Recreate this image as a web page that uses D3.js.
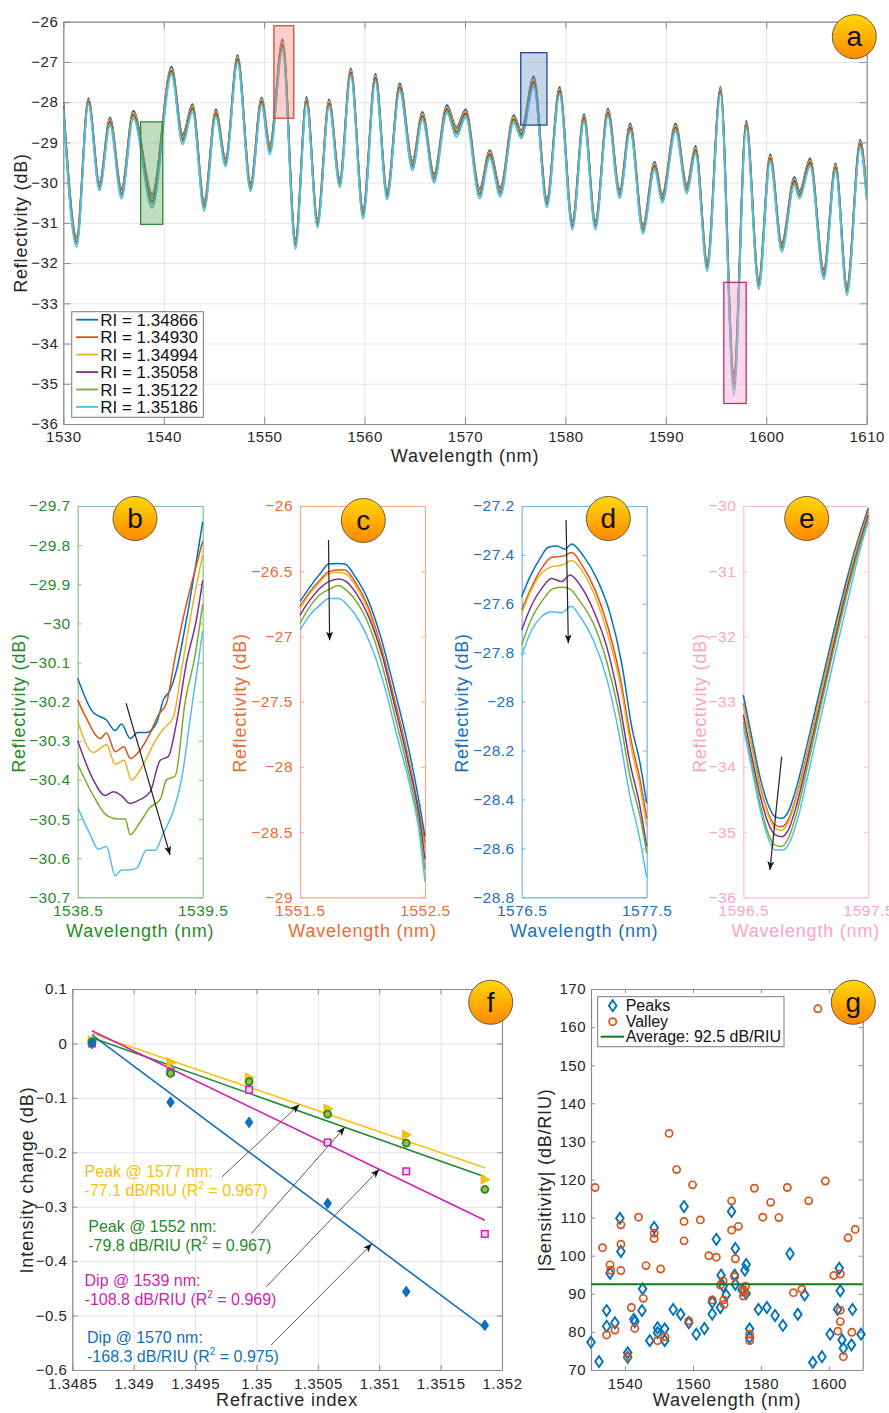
<!DOCTYPE html>
<html>
<head>
<meta charset="utf-8">
<script src="https://cdn.jsdelivr.net/npm/d3@7"></script>
<style>
  body { margin: 0; background: #fff; }
  svg text { font-family: "Liberation Sans", Arial, Helvetica, sans-serif; }
</style>
</head>
<body>
<script>
// ---------------- data ----------------
const riValues = ["1.34866", "1.34930", "1.34994", "1.35058", "1.35122", "1.35186"];
const riColors = ["#0072BD", "#D95319", "#EDB120", "#7E2F8E", "#77AC30", "#4DBEEE"];
// relative position of each RI curve inside the spread of an extremum (0 = lowest RI)
const riFraction = [0, 0.19, 0.27, 0.5, 0.72, 1];

// full spectrum for RI = 1.34866: [wavelength nm, reflectivity dB, spread to RI = 1.35186 dB]
const spectrumExtrema = [
  [1530.0, -28.0, 0.2], [1531.33, -31.35, 0.25], [1532.5, -27.9, 0.15], [1533.6, -30.0, 0.2],
  [1534.65, -28.38, 0.2], [1535.8, -30.15, 0.25], [1536.97, -28.21, 0.2], [1538.85, -30.29, 0.34],
  [1540.78, -27.12, 0.2], [1541.88, -28.8, 0.25], [1542.87, -28.05, 0.2], [1544.03, -30.45, 0.25],
  [1545.19, -28.18, 0.2], [1546.16, -29.4, 0.2], [1547.35, -26.83, 0.2], [1548.65, -30.0, 0.22],
  [1549.74, -27.88, 0.2], [1550.57, -29.05, 0.25], [1551.83, -26.44, 0.27], [1553.12, -31.4, 0.25],
  [1554.22, -27.87, 0.2], [1555.31, -30.9, 0.22], [1556.47, -27.93, 0.2], [1557.53, -29.9, 0.22],
  [1558.63, -27.16, 0.2], [1559.85, -30.65, 0.25], [1561.08, -27.3, 0.2], [1562.24, -30.2, 0.22],
  [1563.5, -27.53, 0.2], [1564.77, -29.45, 0.25], [1565.76, -28.24, 0.2], [1566.92, -29.78, 0.22],
  [1568.2, -28.07, 0.2], [1569.14, -28.62, 0.25], [1570.07, -28.18, 0.2], [1571.46, -30.15, 0.25],
  [1572.46, -29.19, 0.2], [1573.52, -30.12, 0.23], [1574.85, -28.32, 0.2], [1575.61, -28.7, 0.2],
  [1576.84, -27.36, 0.26], [1578.16, -30.4, 0.22], [1579.42, -27.62, 0.2], [1580.69, -30.95, 0.22],
  [1581.85, -28.3, 0.2], [1582.98, -30.95, 0.22], [1584.23, -28.16, 0.2], [1585.4, -30.17, 0.22],
  [1586.45, -28.53, 0.2], [1587.72, -31.05, 0.22], [1588.88, -29.48, 0.2], [1589.64, -30.28, 0.22],
  [1590.97, -28.53, 0.2], [1592.09, -30.05, 0.22], [1592.96, -29.09, 0.2], [1594.12, -31.95, 0.25],
  [1595.44, -27.62, 0.2], [1596.77, -34.75, 0.53], [1598.0, -28.46, 0.2], [1599.25, -32.4, 0.25],
  [1600.39, -29.29, 0.2], [1601.54, -31.5, 0.22], [1602.8, -29.86, 0.2], [1603.3, -30.2, 0.2],
  [1604.37, -29.4, 0.2], [1605.73, -32.15, 0.25], [1606.9, -29.52, 0.2], [1608.04, -32.55, 0.25],
  [1609.35, -28.94, 0.2], [1610.0, -30.25, 0.2]
];

// highlighted windows [wl from, wl to, dB top, dB bottom]
const windowB = [1537.7, 1539.9, -28.49, -31.04];
const windowC = [1550.97, 1552.95, -26.1, -28.4];
const windowD = [1575.55, 1578.16, -26.77, -28.57];
const windowE = [1595.77, 1598.0, -32.48, -35.49];

// zoomed spectra, one list of [wl, dB] per RI
const dip1539 = [
  [[1538.5,-30.14],[1538.625,-30.228],[1538.73,-30.247],[1538.8,-30.274],[1538.85,-30.257],[1538.92,-30.294],[1538.98,-30.279],[1539.05,-30.279],[1539.13,-30.255],[1539.185,-30.196],[1539.24,-30.17],[1539.29,-30.12],[1539.37,-29.99],[1539.45,-29.84],[1539.5,-29.74]],
  [[1538.5,-30.196],[1538.57,-30.243],[1538.68,-30.294],[1538.73,-30.28],[1538.8,-30.328],[1538.87,-30.315],[1538.92,-30.345],[1539.0,-30.324],[1539.08,-30.28],[1539.145,-30.234],[1539.21,-30.204],[1539.28,-30.085],[1539.37,-29.95],[1539.45,-29.85],[1539.5,-29.79]],
  [[1538.5,-30.25],[1538.625,-30.33],[1538.73,-30.31],[1538.8,-30.36],[1538.87,-30.35],[1538.93,-30.40],[1539.025,-30.36],[1539.12,-30.30],[1539.185,-30.27],[1539.265,-30.24],[1539.33,-30.12],[1539.41,-29.97],[1539.5,-29.825]],
  [[1538.5,-30.30],[1538.625,-30.40],[1538.72,-30.44],[1538.785,-30.43],[1538.85,-30.44],[1538.92,-30.46],[1539.0,-30.45],[1539.08,-30.43],[1539.16,-30.35],[1539.225,-30.34],[1539.29,-30.255],[1539.37,-30.10],[1539.45,-29.99],[1539.5,-29.89]],
  [[1538.5,-30.36],[1538.625,-30.44],[1538.73,-30.49],[1538.825,-30.50],[1538.88,-30.50],[1538.92,-30.54],[1538.995,-30.51],[1539.08,-30.47],[1539.16,-30.45],[1539.21,-30.40],[1539.28,-30.39],[1539.36,-30.20],[1539.44,-30.08],[1539.5,-29.95]],
  [[1538.5,-30.47],[1538.6,-30.54],[1538.665,-30.577],[1538.73,-30.57],[1538.8,-30.645],[1538.85,-30.63],[1538.89,-30.63],[1538.97,-30.626],[1539.05,-30.58],[1539.12,-30.58],[1539.185,-30.536],[1539.265,-30.48],[1539.33,-30.40],[1539.41,-30.22],[1539.5,-30.02]]
];
const peak1552 = [
  [[1551.5,-26.733],[1551.58,-26.62],[1551.66,-26.52],[1551.73,-26.445],[1551.8,-26.44],[1551.86,-26.445],[1551.94,-26.54],[1552.04,-26.71],[1552.145,-27.0],[1552.25,-27.385],[1552.36,-27.82],[1552.44,-28.2],[1552.5,-28.535]],
  [[1551.5,-26.77],[1551.58,-26.657],[1551.66,-26.567],[1551.73,-26.503],[1551.8,-26.49],[1551.86,-26.49],[1551.94,-26.58],[1552.04,-26.76],[1552.145,-27.066],[1552.25,-27.46],[1552.36,-27.9],[1552.44,-28.28],[1552.5,-28.586]],
  [[1551.5,-26.785],[1551.58,-26.67],[1551.66,-26.58],[1551.73,-26.52],[1551.8,-26.51],[1551.86,-26.515],[1551.94,-26.605],[1552.04,-26.785],[1552.145,-27.09],[1552.25,-27.49],[1552.36,-27.92],[1552.44,-28.305],[1552.5,-28.625]],
  [[1551.5,-26.836],[1551.58,-26.72],[1551.66,-26.63],[1551.73,-26.58],[1551.81,-26.56],[1551.87,-26.58],[1551.95,-26.67],[1552.05,-26.85],[1552.16,-27.155],[1552.26,-27.54],[1552.37,-27.985],[1552.45,-28.356],[1552.5,-28.71]],
  [[1551.5,-26.9],[1551.58,-26.77],[1551.66,-26.68],[1551.73,-26.64],[1551.81,-26.61],[1551.87,-26.645],[1551.95,-26.73],[1552.05,-26.91],[1552.16,-27.23],[1552.26,-27.615],[1552.37,-28.05],[1552.45,-28.43],[1552.5,-28.79]],
  [[1551.5,-26.95],[1551.58,-26.835],[1551.66,-26.76],[1551.73,-26.71],[1551.81,-26.71],[1551.89,-26.77],[1551.97,-26.874],[1552.06,-27.05],[1552.17,-27.36],[1552.27,-27.74],[1552.38,-28.15],[1552.45,-28.48],[1552.5,-28.88]]
];
const peak1577 = [
  [[1576.5,-27.571],[1576.567,-27.489],[1576.647,-27.414],[1576.713,-27.369],[1576.78,-27.364],[1576.847,-27.377],[1576.9,-27.355],[1576.993,-27.404],[1577.1,-27.496],[1577.207,-27.639],[1577.3,-27.843],[1577.38,-28.102],[1577.447,-28.252],[1577.5,-28.416]],
  [[1576.5,-27.625],[1576.58,-27.53],[1576.66,-27.455],[1576.74,-27.41],[1576.833,-27.405],[1576.9,-27.39],[1576.98,-27.44],[1577.087,-27.543],[1577.193,-27.70],[1577.287,-27.898],[1577.38,-28.17],[1577.447,-28.32],[1577.5,-28.477]],
  [[1576.5,-27.64],[1576.58,-27.54],[1576.66,-27.475],[1576.74,-27.448],[1576.833,-27.44],[1576.9,-27.423],[1576.98,-27.462],[1577.087,-27.57],[1577.193,-27.734],[1577.287,-27.925],[1577.38,-28.198],[1577.447,-28.35],[1577.5,-28.511]],
  [[1576.5,-27.707],[1576.58,-27.605],[1576.66,-27.537],[1576.74,-27.496],[1576.82,-27.509],[1576.887,-27.482],[1576.967,-27.523],[1577.073,-27.625],[1577.18,-27.775],[1577.273,-27.98],[1577.367,-28.252],[1577.447,-28.43],[1577.5,-28.593]],
  [[1576.5,-27.768],[1576.58,-27.659],[1576.66,-27.591],[1576.753,-27.537],[1576.833,-27.532],[1576.887,-27.54],[1576.967,-27.59],[1577.073,-27.68],[1577.18,-27.836],[1577.273,-28.034],[1577.367,-28.307],[1577.447,-28.47],[1577.5,-28.62]],
  [[1576.5,-27.81],[1576.58,-27.707],[1576.66,-27.652],[1576.74,-27.632],[1576.82,-27.636],[1576.895,-27.61],[1576.967,-27.652],[1577.073,-27.748],[1577.18,-27.905],[1577.273,-28.116],[1577.367,-28.388],[1577.447,-28.566],[1577.5,-28.72]]
];
const dip1597 = [
  [[1596.5,-32.898],[1596.567,-33.537],[1596.633,-34.15],[1596.7,-34.584],[1596.753,-34.763],[1596.807,-34.789],[1596.86,-34.686],[1596.927,-34.303],[1597.007,-33.69],[1597.113,-32.82],[1597.22,-31.95],[1597.327,-31.13],[1597.433,-30.42],[1597.5,-30.036]],
  [[1596.5,-33.025],[1596.567,-33.66],[1596.633,-34.28],[1596.7,-34.71],[1596.753,-34.89],[1596.807,-34.92],[1596.86,-34.81],[1596.927,-34.43],[1597.007,-33.82],[1597.113,-32.93],[1597.22,-32.05],[1597.327,-31.21],[1597.433,-30.47],[1597.5,-30.09]],
  [[1596.5,-33.05],[1596.567,-33.69],[1596.633,-34.31],[1596.7,-34.74],[1596.753,-34.94],[1596.807,-34.97],[1596.86,-34.85],[1596.927,-34.46],[1597.007,-33.85],[1597.113,-32.95],[1597.22,-32.07],[1597.327,-31.23],[1597.433,-30.49],[1597.5,-30.11]],
  [[1596.5,-33.2],[1596.567,-33.84],[1596.633,-34.43],[1596.7,-34.865],[1596.753,-35.04],[1596.807,-35.07],[1596.86,-34.97],[1596.927,-34.58],[1597.007,-33.945],[1597.113,-33.05],[1597.22,-32.157],[1597.327,-31.29],[1597.433,-30.55],[1597.5,-30.14]],
  [[1596.5,-33.31],[1596.567,-33.945],[1596.633,-34.56],[1596.7,-35.02],[1596.753,-35.2],[1596.807,-35.22],[1596.86,-35.095],[1596.927,-34.71],[1597.007,-34.05],[1597.113,-33.13],[1597.22,-32.23],[1597.327,-31.365],[1597.433,-30.6],[1597.5,-30.19]],
  [[1596.5,-33.383],[1596.567,-34.02],[1596.633,-34.635],[1596.7,-35.095],[1596.753,-35.274],[1596.82,-35.274],[1596.873,-35.146],[1596.94,-34.763],[1597.02,-34.1],[1597.127,-33.18],[1597.233,-32.285],[1597.34,-31.416],[1597.433,-30.675],[1597.5,-30.24]]
];
// direction arrows in the zoomed panels: [[wl, dB] start, [wl, dB] end]
const arrowB = [[1538.887, -30.204], [1539.239, -30.592]];
const arrowC = [[1551.728, -26.26], [1551.737, -27.03]];
const arrowD = [[1576.855, -27.257], [1576.873, -27.761]];
const arrowE = [[1596.807, -33.843], [1596.713, -35.58]];

// intensity change versus refractive index
const riAxis = [1.34866, 1.34930, 1.34994, 1.35058, 1.35122, 1.35186];
const changePeak1577 = [0.005, -0.035, -0.063, -0.12, -0.168, -0.25];
const changePeak1552 = [0.003, -0.055, -0.07, -0.13, -0.183, -0.268];
const changeDip1539 = [0, -0.052, -0.085, -0.182, -0.235, -0.35];
const changeDip1570 = [0, -0.108, -0.145, -0.294, -0.456, -0.518];
const fitNames = ["Peak @ 1577 nm:", "Peak @ 1552 nm:", "Dip @ 1539 nm:", "Dip @ 1570 nm:"];
const fitSlopes = [-77.1, -79.8, -108.8, -168.3];
const fitR2 = ["0.967", "0.967", "0.969", "0.975"];
// annotation anchors [RI, dB]: label position, arrow start, RI where the arrow meets the fit
const fitLabelAt = [[1.34860, -0.245], [1.34863, -0.346], [1.34860, -0.446], [1.34862, -0.550]];
const fitArrowFrom = [[1.34972, -0.245], [1.34996, -0.349], [1.35008, -0.447], [1.35012, -0.554]];
const fitArrowToRI = [1.35035, 1.35072, 1.3510, 1.35094];

// sensitivity of every peak and valley [wl nm, |S| dB/RIU]
const peakSensitivity = [[1530.0,77.3],[1532.35,72.2],[1534.6,85.6],[1534.6,81.5],[1535.6,95.4],[1537.05,82.4],[1538.5,109.8],[1538.8,101.1],[1540.8,74.5],[1540.8,73.3],[1542.6,83.3],[1542.9,82.7],[1545.2,91.3],[1545.0,85.6],[1547.3,77.7],[1548.6,107.4],[1549.6,81.1],[1549.6,79.8],[1551.7,80.8],[1551.7,77.7],[1554.2,85.9],[1556.4,84.6],[1557.4,112.9],[1558.8,82.4],[1561.0,79.4],[1563.4,80.9],[1565.7,84.7],[1565.7,87.8],[1566.9,104.3],[1568.1,86.4],[1568.3,94.9],[1568.9,92.0],[1569.8,89.7],[1571.4,111.6],[1572.5,101.9],[1572.3,94.9],[1572.5,92.5],[1575.3,96.2],[1575.7,97.7],[1574.5,91.0],[1575.7,90.1],[1576.7,80.8],[1576.7,78.5],[1579.3,85.9],[1581.8,86.4],[1584.2,84.3],[1586.5,81.7],[1588.6,100.5],[1590.9,84.6],[1592.9,89.7],[1595.3,72.0],[1598.0,73.5],[1600.4,79.4],[1603.1,96.7],[1603.4,90.8],[1602.6,85.9],[1603.9,77.9],[1604.3,75.7],[1606.7,76.6],[1607.0,85.9],[1609.5,79.4]];
const valleySensitivity = [[1531.2,117.9],[1533.4,102.1],[1534.6,79.2],[1535.6,97.6],[1535.8,96.2],[1537.05,80.5],[1538.8,108.1],[1538.8,103.0],[1538.8,96.1],[1540.8,73.5],[1541.9,86.4],[1542.9,80.9],[1544.0,110.1],[1545.4,88.8],[1546.2,97.4],[1548.6,105.9],[1548.6,104.5],[1549.6,77.7],[1550.5,96.5],[1551.8,78.7],[1553.0,132.1],[1555.2,122.6],[1557.4,109.0],[1557.4,103.9],[1558.8,82.9],[1559.9,118.6],[1562.2,109.4],[1564.7,100.0],[1565.7,88.4],[1566.9,99.6],[1568.1,92.3],[1568.9,93.4],[1569.1,88.4],[1569.2,87.2],[1571.4,114.4],[1571.4,106.7],[1572.5,99.2],[1573.4,107.7],[1572.3,94.5],[1574.9,89.4],[1574.9,91.0],[1575.5,92.0],[1575.3,90.6],[1576.7,79.4],[1576.7,77.7],[1578.1,117.7],[1580.6,110.1],[1582.9,114.0],[1585.3,110.0],[1587.8,117.9],[1589.6,90.3],[1592.1,91.2],[1594.1,114.4],[1596.8,164.8],[1599.0,119.6],[1601.5,94.8],[1603.4,95.2],[1602.7,80.2],[1603.4,82.7],[1603.4,85.7],[1604.3,73.5],[1605.7,104.7],[1606.8,79.9],[1607.8,106.9]];
const averageSensitivity = 92.5;

// tick values
const aXTicks = [1530, 1540, 1550, 1560, 1570, 1580, 1590, 1600, 1610];
const aYTicks = [-36, -35, -34, -33, -32, -31, -30, -29, -28, -27, -26];
const bYTicks = [-30.7, -30.6, -30.5, -30.4, -30.3, -30.2, -30.1, -30, -29.9, -29.8, -29.7];
const cYTicks = [-29, -28.5, -28, -27.5, -27, -26.5, -26];
const dYTicks = [-28.8, -28.6, -28.4, -28.2, -28, -27.8, -27.6, -27.4, -27.2];
const eYTicks = [-36, -35, -34, -33, -32, -31, -30];
const fXTicks = [1.3485, 1.349, 1.3495, 1.35, 1.3505, 1.351, 1.3515, 1.352];
const fYTicks = [-0.6, -0.5, -0.4, -0.3, -0.2, -0.1, 0, 0.1];
const gXTicks = [1540, 1560, 1580, 1600];
const gYTicks = [70, 80, 90, 100, 110, 120, 130, 140, 150, 160, 170];

// ---------------- drawing ----------------
const AXIS_GRAY = "#8a8a8a";
const GRID_GRAY = "#e4e4e4";
const TEXT_DARK = "#262626";
const tickText = d => String(d).replace("-", "\u2212");

const svg = d3.select("body").append("svg")
  .attr("width", 889).attr("height", 1413)
  .style("display", "block");
const defs = svg.append("defs");

const badgeGrad = defs.append("linearGradient").attr("id", "badgeFill")
  .attr("x1", 0).attr("y1", 0).attr("x2", 0).attr("y2", 1);
badgeGrad.append("stop").attr("offset", "0%").attr("stop-color", "#ffd80a");
badgeGrad.append("stop").attr("offset", "100%").attr("stop-color", "#ff8800");

defs.append("marker").attr("id", "arrowHead")
  .attr("viewBox", "0 0 10 8").attr("refX", 10).attr("refY", 4)
  .attr("markerWidth", 9).attr("markerHeight", 7)
  .attr("markerUnits", "userSpaceOnUse").attr("orient", "auto")
  .append("path").attr("d", "M0,0 L10,4 L0,8 L2.5,4 Z").attr("fill", "#111");

function axesFrame(g, x, y, o) {
  const [xl, xr] = x.range();
  const [yb, yt] = y.range();
  const w = xr - xl, h = yb - yt;
  if (o.grid) {
    g.append("g").attr("transform", `translate(0,${yb})`)
      .call(d3.axisBottom(x).tickValues(o.xTicks).tickSize(-h).tickFormat(""))
      .call(a => { a.select(".domain").remove(); a.selectAll("line").attr("stroke", GRID_GRAY); });
    g.append("g").attr("transform", `translate(${xl},0)`)
      .call(d3.axisLeft(y).tickValues(o.yTicks).tickSize(-w).tickFormat(""))
      .call(a => { a.select(".domain").remove(); a.selectAll("line").attr("stroke", GRID_GRAY); });
  }
  const style = a => {
    a.select(".domain").attr("stroke", o.frame).attr("stroke-width", 1.2);
    a.selectAll(".tick line").attr("stroke", o.frame);
    a.selectAll(".tick text").attr("fill", o.text).attr("font-size", o.fs || 15)
      .attr("letter-spacing", "0.5px");
  };
  const xLen = o.xTickLen === 0 ? 0 : -o.tick;
  g.append("g").attr("transform", `translate(0,${yb})`)
    .call(d3.axisBottom(x).tickValues(o.xTicks).tickSizeInner(xLen).tickSizeOuter(0)
      .tickPadding(o.xPad).tickFormat(tickText))
    .call(style);
  g.append("g").attr("transform", `translate(0,${yt})`)
    .call(d3.axisTop(x).tickValues(o.xTicks).tickSizeInner(xLen).tickSizeOuter(0).tickFormat(""))
    .call(style);
  g.append("g").attr("transform", `translate(${xl},0)`)
    .call(d3.axisLeft(y).tickValues(o.yTicks).tickSizeInner(-o.tick).tickSizeOuter(0)
      .tickPadding(o.yPad).tickFormat(tickText))
    .call(style);
  g.append("g").attr("transform", `translate(${xr},0)`)
    .call(d3.axisRight(y).tickValues(o.yTicks).tickSizeInner(-o.tick).tickSizeOuter(0).tickFormat(""))
    .call(style);
}

function axisTitle(g, txt, x, y, color, rotate) {
  g.append("text")
    .attr("transform", rotate ? `translate(${x},${y}) rotate(-90)` : `translate(${x},${y})`)
    .attr("dy", rotate ? "0.35em" : 0)
    .attr("text-anchor", "middle")
    .attr("font-size", 18).attr("letter-spacing", "0.8px")
    .attr("fill", color).text(txt);
}

function badge(cx, cy, letter) {
  const b = svg.append("g").attr("transform", `translate(${cx},${cy})`);
  b.append("circle").attr("r", 22).attr("fill", "url(#badgeFill)")
    .attr("stroke", "#6e5a3c").attr("stroke-width", 1);
  b.append("text").attr("text-anchor", "middle").attr("dy", "0.33em")
    .attr("font-size", 28).attr("fill", "#111").text(letter);
}

// ---------- panel a: full spectrum ----------
{
  const g = svg.append("g");
  const x = d3.scaleLinear().domain([1530, 1610]).range([63.3, 866.7]);
  const y = d3.scaleLinear().domain([-36, -26]).range([424, 21.7]);
  axesFrame(g, x, y, { xTicks: aXTicks, yTicks: aYTicks, grid: true, frame: AXIS_GRAY,
    text: TEXT_DARK, tick: 7, xPad: 7, yPad: 5 });

  g.append("defs").append("clipPath").attr("id", "clipA")
    .append("rect").attr("x", x(1530)).attr("y", y(-26))
    .attr("width", x(1610) - x(1530)).attr("height", y(-36) - y(-26));

  const line = d3.line().x(d => x(d[0])).y(d => y(d[1])).curve(d3.curveMonotoneX);
  const lines = g.append("g").attr("clip-path", "url(#clipA)");
  riFraction.forEach((f, k) => {
    const pts = spectrumExtrema.map(([wl, db, spread]) => [wl, db - spread * f]);
    lines.append("path").attr("d", line(pts)).attr("fill", "none")
      .attr("stroke", riColors[k]).attr("stroke-width", 1.8);
  });

  const windows = [windowB, windowC, windowD, windowE];
  const winFill = ["rgba(60,150,60,0.32)", "rgba(245,120,100,0.35)", "rgba(80,125,190,0.32)", "rgba(255,150,205,0.38)"];
  const winStroke = ["#2f8a2f", "#d2483a", "#1f4c8a", "#b2336c"];
  windows.forEach((w, i) => {
    g.append("rect").attr("x", x(w[0])).attr("y", y(w[2]))
      .attr("width", x(w[1]) - x(w[0])).attr("height", y(w[3]) - y(w[2]))
      .attr("fill", winFill[i]).attr("stroke", winStroke[i]).attr("stroke-width", 1.3);
  });

  // legend
  const lg = g.append("g").attr("transform", "translate(71.7,311.7)");
  lg.append("rect").attr("width", 131.6).attr("height", 105.6)
    .attr("fill", "#fff").attr("stroke", "#7a7a7a").attr("stroke-width", 1);
  riValues.forEach((v, k) => {
    const ry = 8 + k * 17.45;
    lg.append("line").attr("x1", 4.5).attr("x2", 26.5).attr("y1", ry).attr("y2", ry)
      .attr("stroke", riColors[k]).attr("stroke-width", 1.8);
    lg.append("text").attr("x", 28.5).attr("y", ry).attr("dy", "0.36em")
      .attr("font-size", 17).attr("fill", "#111").text("RI = " + v);
  });

  axisTitle(g, "Reflectivity (dB)", 21, 223, TEXT_DARK, true);
  axisTitle(g, "Wavelength (nm)", 465, 462, TEXT_DARK, false);
  badge(854.3, 36.7, "a");
}

// ---------- panels b-e: zoomed windows ----------
const zoomPanels = [
  { curves: dip1539, dom: [1538.5, 1539.5], ydom: [-30.7, -29.7], yTicks: bYTicks, left: 77.7,
    text: "#1f8c26", frame: "#86c086", arrow: arrowB, titleX: 18.5, badge: [135, 518.5], letter: "b" },
  { curves: peak1552, dom: [1551.5, 1552.5], ydom: [-29, -26], yTicks: cYTicks, left: 300,
    text: "#ee6a33", frame: "#f6a886", arrow: arrowC, titleX: 240, badge: [363.3, 520.5], letter: "c" },
  { curves: peak1577, dom: [1576.5, 1577.5], ydom: [-28.8, -27.2], yTicks: dYTicks, left: 521.7,
    text: "#1c6ec2", frame: "#7ab0e2", arrow: arrowD, titleX: 461.5, badge: [608.3, 518.5], letter: "d" },
  { curves: dip1597, dom: [1596.5, 1597.5], ydom: [-36, -30], yTicks: eYTicks, left: 743.3,
    text: "#ffa2c7", frame: "#ffbad4", arrow: arrowE, titleX: 700, badge: [806.7, 518.5], letter: "e" }
];

zoomPanels.forEach(p => {
  const g = svg.append("g");
  const x = d3.scaleLinear().domain(p.dom).range([p.left, p.left + 125]);
  const y = d3.scaleLinear().domain(p.ydom).range([897.3, 506]);
  axesFrame(g, x, y, { xTicks: p.dom, yTicks: p.yTicks, grid: false, frame: p.frame,
    text: p.text, tick: 4, xTickLen: 0, xPad: 8, yPad: 7, fs: 15.5 });

  const line = d3.line().x(d => x(d[0])).y(d => y(d[1])).curve(d3.curveMonotoneX);
  p.curves.forEach((pts, k) => {
    g.append("path").attr("d", line(pts)).attr("fill", "none")
      .attr("stroke", riColors[k]).attr("stroke-width", 1.5);
  });
  g.append("line")
    .attr("x1", x(p.arrow[0][0])).attr("y1", y(p.arrow[0][1]))
    .attr("x2", x(p.arrow[1][0])).attr("y2", y(p.arrow[1][1]))
    .attr("stroke", "#222").attr("stroke-width", 1.2).attr("marker-end", "url(#arrowHead)");

  axisTitle(g, "Reflectivity (dB)", p.titleX, 703, p.text, true);
  axisTitle(g, "Wavelength (nm)", p.left + 62.5, 937, p.text, false);
  badge(p.badge[0], p.badge[1], p.letter);
});

// ---------- panel f: intensity change vs refractive index ----------
{
  const g = svg.append("g");
  const x = d3.scaleLinear().domain([1.3485, 1.352]).range([72.3, 502]);
  const y = d3.scaleLinear().domain([-0.6, 0.1]).range([1370, 989]);
  axesFrame(g, x, y, { xTicks: fXTicks, yTicks: fYTicks, grid: true, frame: AXIS_GRAY,
    text: TEXT_DARK, tick: 5, xPad: 8, yPad: 5 });

  const series = [changePeak1577, changePeak1552, changeDip1539, changeDip1570];
  const lineCol = ["#f7c413", "#1f8a2a", "#d11fb4", "#1070c0"];
  const textCol = ["#f7c10a", "#1f8a2a", "#cc1fae", "#1070c0"];
  const xMean = d3.mean(riAxis);
  const fitAt = (i, ri) => d3.mean(series[i]) + fitSlopes[i] * (ri - xMean);

  // least-squares fit lines
  series.forEach((s, i) => {
    g.append("line")
      .attr("x1", x(riAxis[0])).attr("y1", y(fitAt(i, riAxis[0])))
      .attr("x2", x(riAxis[5])).attr("y2", y(fitAt(i, riAxis[5])))
      .attr("stroke", lineCol[i]).attr("stroke-width", 1.6);
  });

  // markers
  const diamond = "M0,-5.4 L3.8,0 L0,5.4 L-3.8,0 Z";
  const triRight = "M-3.8,-4.8 L5.2,0 L-3.8,4.8 Z";
  g.selectAll(".sq").data(changeDip1539.map((v, i) => [riAxis[i], v])).join("rect")
    .attr("x", d => x(d[0]) - 3.3).attr("y", d => y(d[1]) - 3.3)
    .attr("width", 6.6).attr("height", 6.6)
    .attr("fill", "#f8d8f0").attr("stroke", "#d11fb4").attr("stroke-width", 1.5);
  g.selectAll(".tri").data(changePeak1577.map((v, i) => [riAxis[i], v])).join("path")
    .attr("d", triRight).attr("transform", d => `translate(${x(d[0])},${y(d[1])})`)
    .attr("fill", "#f7c413").attr("stroke", "#e8b000").attr("stroke-width", 0.8);
  g.selectAll(".circ").data(changePeak1552.map((v, i) => [riAxis[i], v])).join("circle")
    .attr("cx", d => x(d[0])).attr("cy", d => y(d[1])).attr("r", 3.5)
    .attr("fill", "#a7b936").attr("stroke", "#1f8a2a").attr("stroke-width", 1.8);
  g.selectAll(".dia").data(changeDip1570.map((v, i) => [riAxis[i], v])).join("path")
    .attr("d", diamond).attr("transform", d => `translate(${x(d[0])},${y(d[1])})`)
    .attr("fill", "#1070c0").attr("stroke", "#1070c0").attr("stroke-width", 1);

  // labels and arrows
  series.forEach((s, i) => {
    const [lx, ly] = fitLabelAt[i];
    g.append("text").attr("x", x(lx)).attr("y", y(ly))
      .attr("font-size", 16).attr("fill", textCol[i]).text(fitNames[i]);
    const t2 = g.append("text").attr("x", x(lx)).attr("y", y(ly) + 19)
      .attr("font-size", 16).attr("fill", textCol[i]);
    t2.append("tspan").text(`${fitSlopes[i]} dB/RIU (R`);
    t2.append("tspan").attr("font-size", 10).attr("dy", -7).text("2");
    t2.append("tspan").attr("dy", 7).text(` = ${fitR2[i]})`);

    const [ax0, ay0] = fitArrowFrom[i];
    const ri1 = fitArrowToRI[i];
    g.append("line")
      .attr("x1", x(ax0)).attr("y1", y(ay0))
      .attr("x2", x(ri1)).attr("y2", y(fitAt(i, ri1)))
      .attr("stroke", "#5a5a5a").attr("stroke-width", 1).attr("marker-end", "url(#arrowHead)");
  });

  axisTitle(g, "Intensity change (dB)", 27, 1180, TEXT_DARK, true);
  axisTitle(g, "Refractive index", 287, 1406, TEXT_DARK, false);
  badge(490.7, 1002.3, "f");
}

// ---------- panel g: sensitivity of all peaks and valleys ----------
{
  const g = svg.append("g");
  const x = d3.scaleLinear().domain([1530, 1610]).range([591, 862.7]);
  const y = d3.scaleLinear().domain([70, 170]).range([1370, 989]);
  axesFrame(g, x, y, { xTicks: gXTicks, yTicks: gYTicks, grid: false, frame: AXIS_GRAY,
    text: TEXT_DARK, tick: 4, xPad: 8, yPad: 5 });

  const diamond = "M0,-5.5 L3.8,0 L0,5.5 L-3.8,0 Z";
  g.selectAll(".pk").data(peakSensitivity).join("path")
    .attr("d", diamond).attr("transform", d => `translate(${x(d[0])},${y(d[1])})`)
    .attr("fill", "none").attr("stroke", "#0072BD").attr("stroke-width", 1.9);
  g.selectAll(".vl").data(valleySensitivity).join("circle")
    .attr("cx", d => x(d[0])).attr("cy", d => y(d[1])).attr("r", 3.6)
    .attr("fill", "none").attr("stroke", "#D95319").attr("stroke-width", 1.7);
  g.append("line")
    .attr("x1", x(1530)).attr("x2", x(1610))
    .attr("y1", y(averageSensitivity)).attr("y2", y(averageSensitivity))
    .attr("stroke", "#137a1b").attr("stroke-width", 2);

  const lg = g.append("g").attr("transform", "translate(597.7,996.7)");
  lg.append("rect").attr("width", 186.3).attr("height", 50)
    .attr("fill", "#fff").attr("stroke", "#7a7a7a").attr("stroke-width", 1);
  lg.append("path").attr("d", diamond).attr("transform", "translate(15,9)")
    .attr("fill", "none").attr("stroke", "#0072BD").attr("stroke-width", 1.9);
  lg.append("circle").attr("cx", 15).attr("cy", 25).attr("r", 3.6)
    .attr("fill", "none").attr("stroke", "#D95319").attr("stroke-width", 1.7);
  lg.append("line").attr("x1", 3).attr("x2", 26.3).attr("y1", 40).attr("y2", 40)
    .attr("stroke", "#137a1b").attr("stroke-width", 2);
  [["Peaks", 9], ["Valley", 25], [`Average: ${averageSensitivity} dB/RIU`, 40]].forEach(([t, ty]) => {
    lg.append("text").attr("x", 28).attr("y", ty).attr("dy", "0.36em")
      .attr("font-size", 16).attr("fill", "#111").text(t);
  });

  axisTitle(g, "|Sensitivity| (dB/RIU)", 545, 1180, TEXT_DARK, true);
  axisTitle(g, "Wavelength (nm)", 727, 1406, TEXT_DARK, false);
  badge(853.3, 1002.3, "g");
}
</script>
</body>
</html>
